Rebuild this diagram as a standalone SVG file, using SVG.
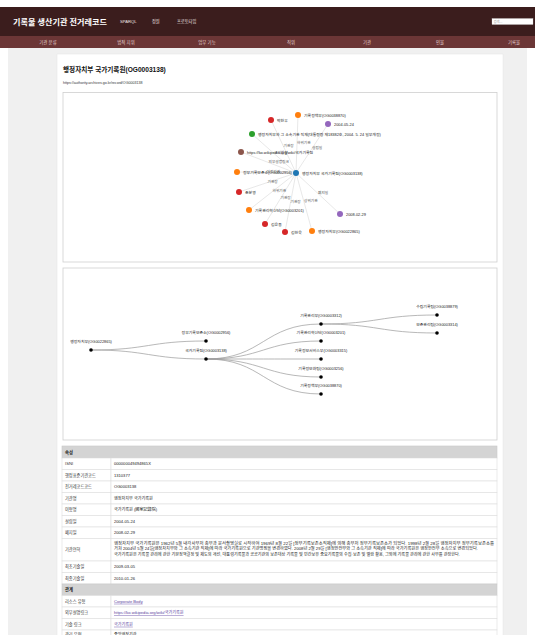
<svg xmlns="http://www.w3.org/2000/svg" width="535" height="635" viewBox="0 0 535 635">
<style>
text{font-family:"Liberation Sans","Noto Sans CJK KR",sans-serif;}
.nav{font-size:4.4px;fill:#e6d3d3;text-anchor:middle}
.top{font-size:4.2px;fill:#f2e6e6}
.edge{stroke:#d8d8d8;stroke-width:0.6;fill:none}
.nl{font-size:3.9px;fill:#222}
.el{font-size:3.7px;fill:#555}
.link{stroke:#999;stroke-width:0.7;fill:none}
.dot{fill:#000}
.tl{font-size:3.9px;fill:#222;text-anchor:middle}
.cell{fill:#fff;stroke:#dedede;stroke-width:0.6}
.hcell{fill:#d4d4d4;stroke:#c8c8c8;stroke-width:0.6}
.tk{font-size:4.2px;fill:#333}
.tv{font-size:4.1px;fill:#222}
.th{font-size:4.3px;fill:#222;font-weight:bold}
.a{font-size:4.1px;fill:#5b3fa0;text-decoration:underline;font-family:"Liberation Sans","Noto Sans CJK KR",sans-serif}
</style>
<rect width="535" height="635" fill="#fff"/>
<rect x="8" y="48" width="519" height="587" fill="#f0f0f0"/>
<g id="header">
<rect x="0" y="7" width="535" height="29" fill="#3b1d1d"/>
<text x="13" y="25" font-size="8.1" font-weight="bold" fill="#fff">기록물 생산기관 전거레코드</text>
<text class="top" x="120" y="23">SPARQL</text>
<text class="top" x="152" y="23">정원</text>
<text class="top" x="177" y="23">프로토타입</text>
<rect x="492" y="18.5" width="41" height="6" fill="#fff" stroke="#ccc" stroke-width="0.3"/>
<text x="493.5" y="23" font-size="3.3" fill="#999">검색...</text>
</g>
<g id="navbar">
<rect x="0" y="36" width="535" height="12" fill="#6b3636"/>
<text class="nav" x="48" y="43.6">기관 분류</text>
<text class="nav" x="126" y="43.6">법적 지위</text>
<text class="nav" x="207" y="43.6">업무 기능</text>
<text class="nav" x="291" y="43.6">직위</text>
<text class="nav" x="367" y="43.6">기관</text>
<text class="nav" x="440" y="43.6">인물</text>
<text class="nav" x="514" y="43.6">기록물</text>
</g>
<rect x="57" y="54" width="446" height="590" fill="#fff" stroke="#e4e4e4" stroke-width="0.5"/>
<text x="63" y="72" font-size="6.6" font-weight="bold" fill="#111">행정자치부 국가기록원(OG0003138)</text>
<text x="63" y="84" font-size="3.6" fill="#333">https://authority.archives.go.kr/record/OG0003138</text>
<rect x="63" y="92.5" width="434" height="169.5" fill="#fff" stroke="#cfcfcf" stroke-width="0.8"/>
<g id="graph-edges">
<line class="edge" x1="296" y1="173" x2="271" y2="120"/>
<line class="edge" x1="296" y1="173" x2="298" y2="115"/>
<line class="edge" x1="296" y1="173" x2="328" y2="124"/>
<line class="edge" x1="296" y1="173" x2="252" y2="134"/>
<line class="edge" x1="296" y1="173" x2="241" y2="152"/>
<line class="edge" x1="296" y1="173" x2="237" y2="172"/>
<line class="edge" x1="296" y1="173" x2="239" y2="192"/>
<line class="edge" x1="296" y1="173" x2="249" y2="210"/>
<line class="edge" x1="296" y1="173" x2="265" y2="224"/>
<line class="edge" x1="296" y1="173" x2="285" y2="232"/>
<line class="edge" x1="296" y1="173" x2="312" y2="231"/>
<line class="edge" x1="296" y1="173" x2="340" y2="214"/>
<text class="el" x="283.5" y="146.5">기관장</text>
<text class="el" x="297" y="144">하위기관</text>
<text class="el" x="312" y="148.5">설립일</text>
<text class="el" x="274" y="153.5">근거법령</text>
<text class="el" x="268.5" y="162.5">외부설명링크</text>
<text class="el" x="266.5" y="172.5">이전기관</text>
<text class="el" x="267.5" y="182.5">기관장</text>
<text class="el" x="272.5" y="191.5">하위기관</text>
<text class="el" x="280.5" y="198.5">기관장</text>
<text class="el" x="290.5" y="202.5">기관장</text>
<text class="el" x="304" y="202">상위기관</text>
<text class="el" x="318" y="193.5">폐지일</text>
</g>
<g id="n-center"><circle cx="296" cy="173" r="3" fill="#1f77b4"/><text class="nl" x="302" y="174.5">행정자치부 국가기록원(OG0003138)</text></g>
<g id="n-park"><circle cx="271" cy="120" r="3" fill="#d62728"/><text class="nl" x="277" y="121.5">박찬우</text></g>
<g id="n-policy"><circle cx="298" cy="115" r="3" fill="#ff7f0e"/><text class="nl" x="304" y="116.5">기록정책부(OG0038870)</text></g>
<g id="n-est"><circle cx="328" cy="124" r="3" fill="#9467bd"/><text class="nl" x="334" y="125.5">2004-05-24</text></g>
<g id="n-law"><circle cx="252" cy="134" r="3" fill="#2ca02c"/><text class="nl" x="258" y="135.5">행정자치부와 그 소속기관 직제(대통령령 제18382호, 2004. 5. 24 일부개정)</text></g>
<g id="n-wiki"><circle cx="241" cy="152" r="3" fill="#8c564b"/><text class="nl" x="247" y="153.5">https://ko.wikipedia.org/wiki/국가기록원</text></g>
<g id="n-prev"><circle cx="237" cy="172" r="3" fill="#ff7f0e"/><text class="nl" x="243" y="173.5">정부기록보존소(OG0002956)</text></g>
<g id="n-cho"><circle cx="239" cy="192" r="3" fill="#d62728"/><text class="nl" x="245" y="193.5">조분영</text></g>
<g id="n-innov"><circle cx="249" cy="210" r="3" fill="#ff7f0e"/><text class="nl" x="255" y="211.5">기록관리혁신단(OG0003201)</text></g>
<g id="n-kim1"><circle cx="265" cy="224" r="3" fill="#d62728"/><text class="nl" x="271" y="225.5">김윤동</text></g>
<g id="n-kim2"><circle cx="285" cy="232" r="3" fill="#d62728"/><text class="nl" x="291" y="233.5">김한욱</text></g>
<g id="n-parent"><circle cx="312" cy="231" r="3" fill="#ff7f0e"/><text class="nl" x="318" y="232.5">행정자치부(OG0022865)</text></g>
<g id="n-abol"><circle cx="340" cy="214" r="3" fill="#9467bd"/><text class="nl" x="346" y="215.5">2008-02-29</text></g>
<rect x="63" y="268" width="434" height="172" fill="#fff" stroke="#cfcfcf" stroke-width="0.8"/>
<g id="tree-links">
<path class="link" d="M91,350 C148.5,350 148.5,341 206,341"/>
<path class="link" d="M91,350 C148.5,350 148.5,359 206,359"/>
<path class="link" d="M206,359 C263.5,359 263.5,324 321,324"/>
<path class="link" d="M206,359 C263.5,359 263.5,341 321,341"/>
<path class="link" d="M206,359 C263.5,359 263.5,359 321,359"/>
<path class="link" d="M206,359 C263.5,359 263.5,377 321,377"/>
<path class="link" d="M206,359 C263.5,359 263.5,394 321,394"/>
<path class="link" d="M321,324 C379,324 379,315 437,315"/>
<path class="link" d="M321,324 C379,324 379,333 437,333"/>
</g>
<g id="t-root"><circle class="dot" cx="91" cy="350" r="1.8"/><text class="tl" x="91" y="343">행정자치부(OG0022865)</text></g>
<g id="t-prev"><circle class="dot" cx="206" cy="341" r="1.8"/><text class="tl" x="206" y="334">정부기록보존소(OG0002956)</text></g>
<g id="t-nar"><circle class="dot" cx="206" cy="359" r="1.8"/><text class="tl" x="206" y="352">국가기록원(OG0003138)</text></g>
<g id="t-c1"><circle class="dot" cx="321" cy="324" r="1.8"/><text class="tl" x="321" y="317">기록관리부(OG0003312)</text></g>
<g id="t-c2"><circle class="dot" cx="321" cy="341" r="1.8"/><text class="tl" x="321" y="334">기록관리혁신단(OG0003201)</text></g>
<g id="t-c3"><circle class="dot" cx="321" cy="359" r="1.8"/><text class="tl" x="321" y="352">기록정보서비스부(OG0003315)</text></g>
<g id="t-c4"><circle class="dot" cx="321" cy="377" r="1.8"/><text class="tl" x="321" y="370">기록정보화팀(OG0003256)</text></g>
<g id="t-c5"><circle class="dot" cx="321" cy="394" r="1.8"/><text class="tl" x="321" y="387">기록정책부(OG0038870)</text></g>
<g id="t-g1"><circle class="dot" cx="437" cy="315" r="1.8"/><text class="tl" x="437" y="308">수집기록팀(OG0038879)</text></g>
<g id="t-g2"><circle class="dot" cx="437" cy="333" r="1.8"/><text class="tl" x="437" y="326">보존관리팀(OG0003314)</text></g>
<g id="table">
<rect class="hcell" x="62" y="446" width="435" height="12"/>
<text class="th" x="65" y="453.5">속성</text>
<rect class="cell" x="62" y="458" width="49" height="11.5"/><rect class="cell" x="111" y="458" width="386" height="11.5"/>
<text class="tk" x="65" y="465.3">ISNI</text><text class="tv" x="114" y="465.3">000000049494865X</text>
<rect class="cell" x="62" y="469.5" width="49" height="11.5"/><rect class="cell" x="111" y="469.5" width="386" height="11.5"/>
<text class="tk" x="65" y="476.8">행정표준기관코드</text><text class="tv" x="114" y="476.8">1310377</text>
<rect class="cell" x="62" y="481" width="49" height="11.5"/><rect class="cell" x="111" y="481" width="386" height="11.5"/>
<text class="tk" x="65" y="488.3">전거레코드코드</text><text class="tv" x="114" y="488.3">OG0003138</text>
<rect class="cell" x="62" y="492.5" width="49" height="11.5"/><rect class="cell" x="111" y="492.5" width="386" height="11.5"/>
<text class="tk" x="65" y="499.8">기관명</text><text class="tv" x="114" y="499.8">행정자치부 국가기록원</text>
<rect class="cell" x="62" y="504" width="49" height="11.5"/><rect class="cell" x="111" y="504" width="386" height="11.5"/>
<text class="tk" x="65" y="511.3">이형명</text><text class="tv" x="114" y="511.3">국가기록원 (國家記錄院)</text>
<rect class="cell" x="62" y="515.5" width="49" height="11.5"/><rect class="cell" x="111" y="515.5" width="386" height="11.5"/>
<text class="tk" x="65" y="522.8">설립일</text><text class="tv" x="114" y="522.8">2004-05-24</text>
<rect class="cell" x="62" y="527" width="49" height="11.5"/><rect class="cell" x="111" y="527" width="386" height="11.5"/>
<text class="tk" x="65" y="534.3">폐지일</text><text class="tv" x="114" y="534.3">2008-02-29</text>
<rect class="cell" x="62" y="538.5" width="49" height="22.5"/><rect class="cell" x="111" y="538.5" width="386" height="22.5"/>
<text class="tk" x="65" y="551.3">기관연혁</text>
<text class="tv" x="114" y="544.6" textLength="380" lengthAdjust="spacingAndGlyphs">행정자치부 국가기록원은 1962년 5월 내각사무처 총무과 문서촬영실로 시작하여 1969년 8월 22일 [정부기록보존소직제]에 의해 총무처 정부기록보존소가 되었다. 1998년 2월 28일 행정자치부 정부기록보존소를</text>
<text class="tv" x="114" y="550.1" textLength="364" lengthAdjust="spacingAndGlyphs">거쳐 2004년 5월 24일[행정자치부와 그 소속기관 직제]에 따라 국가기록원으로 기관명칭을 변경하였다. 2008년 2월 29일 [행정안전부와 그 소속기관 직제]에 따라 국가기록원은 행정안전부 소속으로 변경되었다.</text>
<text class="tv" x="114" y="555.6" textLength="346" lengthAdjust="spacingAndGlyphs">국가기록원은 기록물 관리에 관한 기본정책결정 및 제도의 개선, 대통령기록물과 공공기관의 보존대상 기록물 및 민간보유 중요기록물의 수집·보존 및 열람 활용, 그외에 기록물 관리에 관한 사무를 관장한다.</text>
<rect class="cell" x="62" y="561" width="49" height="11.5"/><rect class="cell" x="111" y="561" width="386" height="11.5"/>
<text class="tk" x="65" y="568.3">최초기술일</text><text class="tv" x="114" y="568.3">2009-03-05</text>
<rect class="cell" x="62" y="572.5" width="49" height="11.5"/><rect class="cell" x="111" y="572.5" width="386" height="11.5"/>
<text class="tk" x="65" y="579.8">최종기술일</text><text class="tv" x="114" y="579.8">2010-01-26</text>
<rect class="hcell" x="62" y="584" width="435" height="11.5"/>
<text class="th" x="65" y="591.3">관계</text>
<rect class="cell" x="62" y="595.5" width="49" height="11.5"/><rect class="cell" x="111" y="595.5" width="386" height="11.5"/>
<text class="tk" x="65" y="602.8">리소스 유형</text><text class="a" x="114" y="602.8">Corporate Body</text>
<rect class="cell" x="62" y="607" width="49" height="11.5"/><rect class="cell" x="111" y="607" width="386" height="11.5"/>
<text class="tk" x="65" y="614.3">외부설명링크</text><text class="a" x="114" y="614.3">https://ko.wikipedia.org/wiki/국가기록원</text>
<rect class="cell" x="62" y="618.5" width="49" height="11.5"/><rect class="cell" x="111" y="618.5" width="386" height="11.5"/>
<text class="tk" x="65" y="625.8">기술 링크</text><text class="a" x="114" y="625.8">국가기록원</text>
<rect class="cell" x="62" y="630" width="49" height="11.5"/><rect class="cell" x="111" y="630" width="386" height="11.5"/>
<text class="tk" x="65" y="636">관리 유형</text><text class="tv" x="114" y="636">중앙행정기관</text>
</g>
</svg>
